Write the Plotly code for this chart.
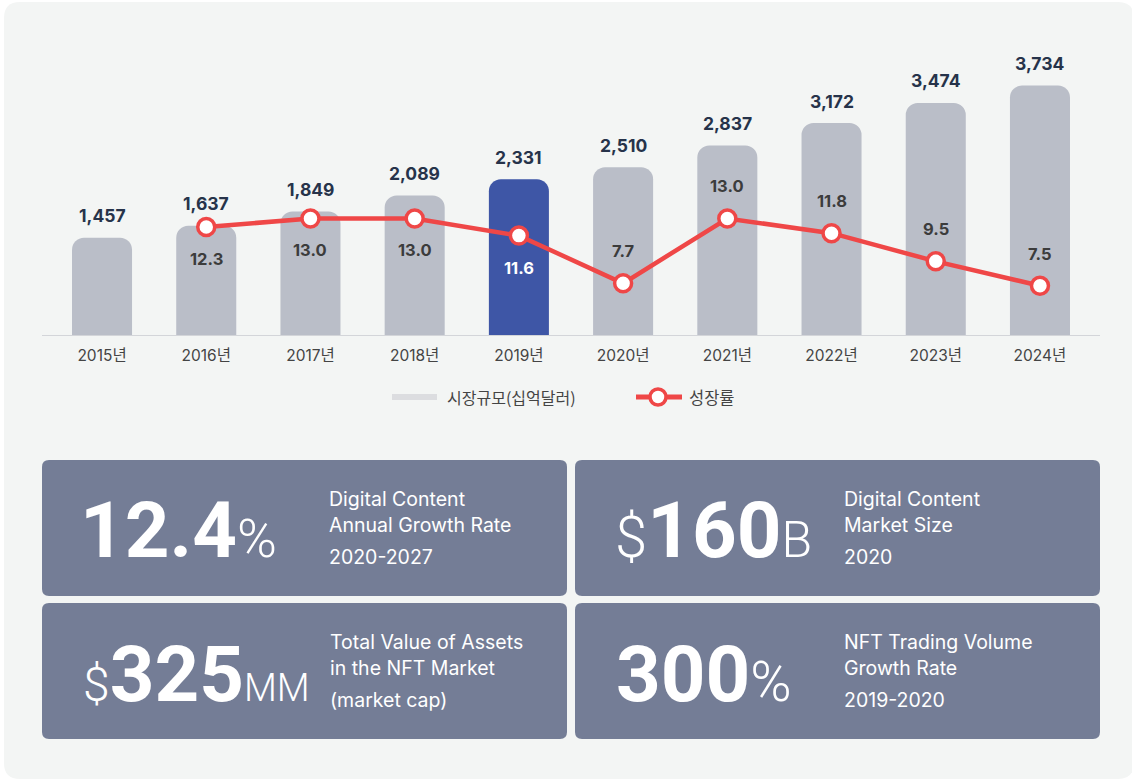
import plotly.graph_objects as go

# ---------------- data ----------------
years = ["2015년", "2016년", "2017년", "2018년", "2019년",
         "2020년", "2021년", "2022년", "2023년", "2024년"]
market_size = [1457, 1637, 1849, 2089, 2331, 2510, 2837, 3172, 3474, 3734]
growth_rate = [None, 12.3, 13.0, 13.0, 11.6, 7.7, 13.0, 11.8, 9.5, 7.5]
highlight_year = "2019년"
legend_labels = ["시장규모(십억달러)", "성장률"]

kpi_prefix = ["", "$", "$", ""]
kpi_number = ["12.4", "160", "325", "300"]
kpi_suffix = ["%", "B", "MM", "%"]
kpi_lines = [
    ["Digital Content", "Annual Growth Rate", "2020-2027"],
    ["Digital Content", "Market Size", "2020"],
    ["Total Value of Assets", "in the NFT Market", "(market cap)"],
    ["NFT Trading Volume", "Growth Rate", "2019-2020"],
]

# ---------------- layout helpers ----------------
W, H = 1132, 781
def px(x):
    return x / W
def py(y):
    return 1 - y / H

def rrect(x0, y0, x1, y1, r):
    pts = [
        f"M {px(x0 + r)} {py(y0)}",
        f"L {px(x1 - r)} {py(y0)}",
        f"Q {px(x1)} {py(y0)} {px(x1)} {py(y0 + r)}",
        f"L {px(x1)} {py(y1 - r)}",
        f"Q {px(x1)} {py(y1)} {px(x1 - r)} {py(y1)}",
        f"L {px(x0 + r)} {py(y1)}",
        f"Q {px(x0)} {py(y1)} {px(x0)} {py(y1 - r)}",
        f"L {px(x0)} {py(y0 + r)}",
        f"Q {px(x0)} {py(y0)} {px(x0 + r)} {py(y0)}",
        "Z",
    ]
    return " ".join(pts)

FONT = "Inter, 'Noto Sans CJK KR', sans-serif"
KFONT = "'Noto Sans CJK KR', Inter, sans-serif"
RED = "#ef4747"
GRAY_BAR = "#babec8"
BLUE_BAR = "#3e56a6"
BOX = "#747d96"

plot_top, plot_bot = 40, 335
bar_px_per_unit = 0.0668
rate_zero_px, rate_px_per_unit = 377.6, 12.24
y1_range = [0, (plot_bot - plot_top) / bar_px_per_unit]
y2_range = [(rate_zero_px - plot_bot) / rate_px_per_unit,
            (rate_zero_px - plot_top) / rate_px_per_unit]

fig = go.Figure()

bar_colors = [BLUE_BAR if y == highlight_year else GRAY_BAR for y in years]
fig.add_trace(go.Bar(
    x=years, y=market_size, marker=dict(color=bar_colors, line=dict(width=0)),
    width=0.576, yaxis="y", hoverinfo="skip", showlegend=False,
))
fig.add_trace(go.Scatter(
    x=years, y=growth_rate, yaxis="y2", mode="lines+markers",
    line=dict(color=RED, width=4.5),
    marker=dict(size=17, color="white", line=dict(color=RED, width=3.5)),
    hoverinfo="skip", showlegend=False, cliponaxis=False,
))

annotations = []
# bar value labels
for yr, v in zip(years, market_size):
    annotations.append(dict(
        x=yr, y=v, xref="x", yref="y", text=f"<b>{v:,}</b>", showarrow=False,
        yanchor="middle", yshift=22,
        font=dict(family=FONT, size=17.5, color="#26334a"),
    ))
# growth labels
for i, (yr, r) in enumerate(zip(years, growth_rate)):
    if r is None:
        continue
    below = i <= 4
    col = "white" if yr == highlight_year else "#3c3c3c"
    annotations.append(dict(
        x=yr, y=r, xref="x", yref="y2", text=f"<b>{r:.1f}</b>", showarrow=False,
        yanchor="middle", yshift=-32 if below else 32,
        font=dict(family=FONT, size=16.5, color=col),
    ))

shapes = []
# background panel
shapes.append(dict(type="path", path=rrect(4, 2, 1134, 779, 16), xref="paper", yref="paper",
                   fillcolor="#f3f5f4", line=dict(width=0), layer="below"))

# legend
shapes.append(dict(type="line", xref="paper", yref="paper",
                   x0=px(392), x1=px(437), y0=py(397), y1=py(397),
                   line=dict(color="#dcdde0", width=6), layer="above"))
annotations.append(dict(x=px(445), y=py(397), xref="paper", yref="paper",
                        text=legend_labels[0], showarrow=False, xanchor="left", yanchor="middle",
                        font=dict(family=KFONT, size=16, color="#444444")))
shapes.append(dict(type="line", xref="paper", yref="paper",
                   x0=px(636), x1=px(682), y0=py(397), y1=py(397),
                   line=dict(color=RED, width=5), layer="above"))
r_leg = 8
shapes.append(dict(type="circle", xref="paper", yref="paper",
                   x0=px(658 - r_leg), x1=px(658 + r_leg), y0=py(397 + r_leg), y1=py(397 - r_leg),
                   fillcolor="white", line=dict(color=RED, width=3.5), layer="above"))
annotations.append(dict(x=px(687), y=py(397), xref="paper", yref="paper",
                        text=legend_labels[1], showarrow=False, xanchor="left", yanchor="middle",
                        font=dict(family=KFONT, size=16.5, color="#444444")))

# KPI boxes
boxes = [(42, 460, 567, 596), (575, 460, 1100, 596),
         (42, 603, 567, 739), (575, 603, 1100, 739)]
num_x = [78, 613, 81, 614]
txt_x = [327, 842, 328, 842]
prefix_size = [58, 58, 48, 58]
suffix_size = [54, 50, 38, 56]
big_size = 78
for i, (x0, y0, x1, y1) in enumerate(boxes):
    shapes.append(dict(type="path", path=rrect(x0, y0, x1, y1, 7), xref="paper", yref="paper",
                       fillcolor=BOX, line=dict(width=0), layer="below"))
    base = y0 + 98 if i < 2 else y0 + 99
    parts = ""
    if kpi_prefix[i]:
        parts += f'<span style="font-size:{prefix_size[i]}px;font-weight:300">{kpi_prefix[i]}</span>'
    parts += f"<b>{kpi_number[i]}</b>"
    parts += f'<span style="font-size:{suffix_size[i]}px;font-weight:300">{kpi_suffix[i]}</span>'
    annotations.append(dict(
        x=px(num_x[i]), y=py(base - 28), xref="paper", yref="paper", text=parts,
        showarrow=False, xanchor="left", yanchor="middle",
        font=dict(family="Roboto, Inter, sans-serif", size=big_size, color="white"),
    ))
    line_y = [y0 + 39, y0 + 65, y0 + 97]
    for ln, ly in zip(kpi_lines[i], line_y):
        annotations.append(dict(
            x=px(txt_x[i]), y=py(ly), xref="paper", yref="paper", text=ln,
            showarrow=False, xanchor="left", yanchor="middle",
            font=dict(family=FONT, size=19.5, color="white", weight=400),
        ))

fig.update_layout(
    width=W, height=H, margin=dict(l=0, r=0, t=0, b=0),
    paper_bgcolor="white", plot_bgcolor="rgba(0,0,0,0)",
    barcornerradius=12,
    xaxis=dict(domain=[px(42), px(1100)], type="category", range=[-0.576, 9.576],
               showline=True, linecolor="#d3d5d9", linewidth=1.2, ticks="",
               showgrid=False, zeroline=False, fixedrange=True, ticklabelstandoff=6,
               tickfont=dict(family=FONT, size=15.5, color="#444444")),
    yaxis=dict(domain=[py(plot_bot), py(plot_top)], range=y1_range, visible=False,
               showgrid=False, zeroline=False, fixedrange=True),
    yaxis2=dict(overlaying="y", range=y2_range, visible=False, showgrid=False,
                zeroline=False, fixedrange=True),
    shapes=shapes, annotations=annotations, showlegend=False,
)

fig.write_html("out.html", config={"displayModeBar": False},
               post_script="document.body.style.margin='0';document.body.style.overflow='hidden';")
